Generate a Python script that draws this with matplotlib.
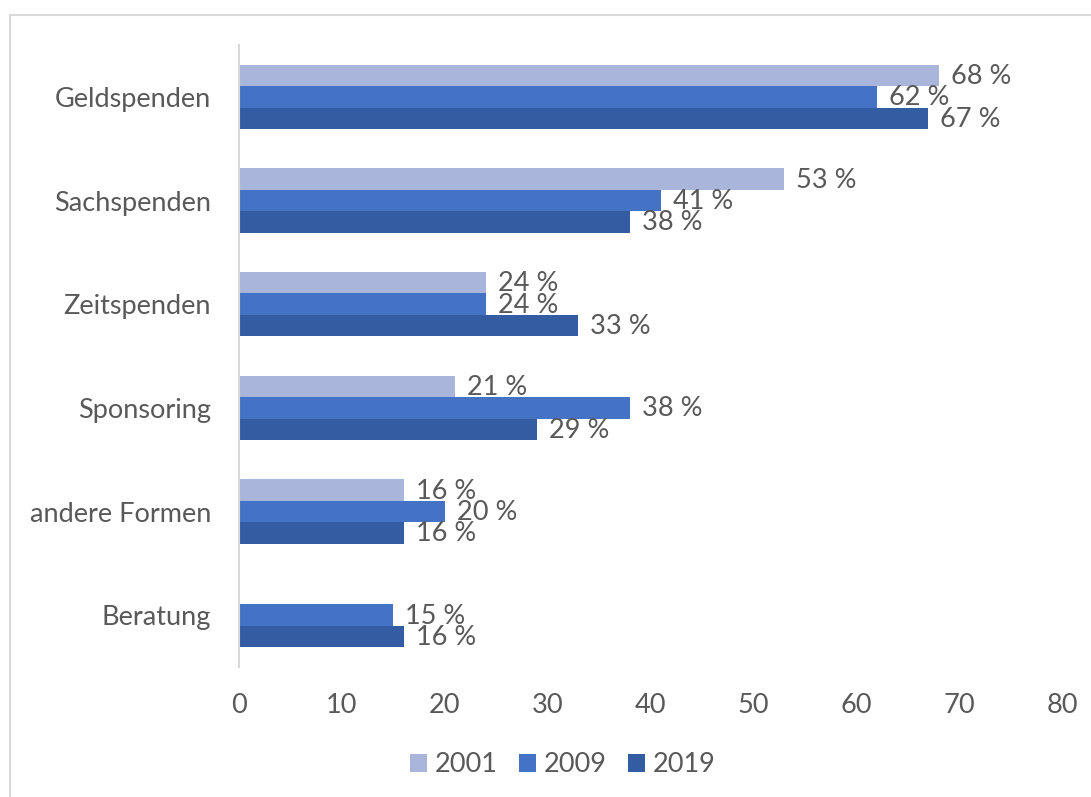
import matplotlib
matplotlib.use("Agg")
import matplotlib.pyplot as plt
from matplotlib.lines import Line2D
from matplotlib.patches import Patch
import numpy as np

plt.rcParams['font.family'] = ['Lato', 'DejaVu Sans']

categories = ["Geldspenden", "Sachspenden", "Zeitspenden", "Sponsoring",
              "andere Formen", "Beratung"]
years = ["2001", "2009", "2019"]
values_2001 = [68, 53, 24, 21, 16, None]
values_2009 = [62, 41, 24, 38, 20, 15]
values_2019 = [67, 38, 33, 29, 16, 16]
series = [values_2001, values_2009, values_2019]
colors = ["#A9B5DA", "#4472C4", "#335CA3"]
text_color = "#595959"
fs = 19.5

W, H = 1091, 797
fig = plt.figure(figsize=(W / 100, H / 100), dpi=100)
ax = fig.add_axes([239 / W, 1 - 667 / H, (1062 - 239) / W, (667 - 45) / H])

y = np.arange(len(categories))
bar_h = 0.207
offsets = [-bar_h, 0, bar_h]

for vals, col, off in zip(series, colors, offsets):
    for i, v in enumerate(vals):
        if v is None:
            continue
        ax.barh(y[i] + off, v, height=bar_h, color=col, edgecolor="none")
        ax.annotate(f"{v} %", xy=(v, y[i] + off), xytext=(12, -1),
                    textcoords="offset pixels", va="center", ha="left",
                    fontsize=fs, color=text_color)

ax.set_xlim(0, 80)
ax.set_ylim(len(categories) - 0.5, -0.5)
ax.set_xticks(range(0, 81, 10))
ax.set_yticks(y)
ax.set_yticklabels(categories)
ax.tick_params(axis="both", length=0, labelsize=fs, labelcolor=text_color)
ax.tick_params(axis="y", pad=20)
ax.tick_params(axis="x", pad=19)
for s in ["top", "right", "bottom"]:
    ax.spines[s].set_visible(False)
ax.spines["left"].set_color("#D9D9D9")
ax.spines["left"].set_linewidth(1.5)

handles = [Patch(facecolor=c, edgecolor="none") for c in colors]
fig.legend(handles, years, loc="center", bbox_to_anchor=(563 / W, 1 - 765 / H),
           ncol=3, frameon=False, fontsize=fs, labelcolor=text_color,
           handlelength=0.6, handleheight=0.6, handletextpad=0.3,
           columnspacing=0.8)

# outer chart frame (top and left edges)
fig.add_artist(Line2D([10 / W, 1], [1 - 15 / H, 1 - 15 / H],
                      transform=fig.transFigure, color="#D9D9D9", lw=1.5))
fig.add_artist(Line2D([10 / W, 10 / W], [1 - 15 / H, 0],
                      transform=fig.transFigure, color="#D9D9D9", lw=1.5))

fig.savefig("out.png", dpi=100)
